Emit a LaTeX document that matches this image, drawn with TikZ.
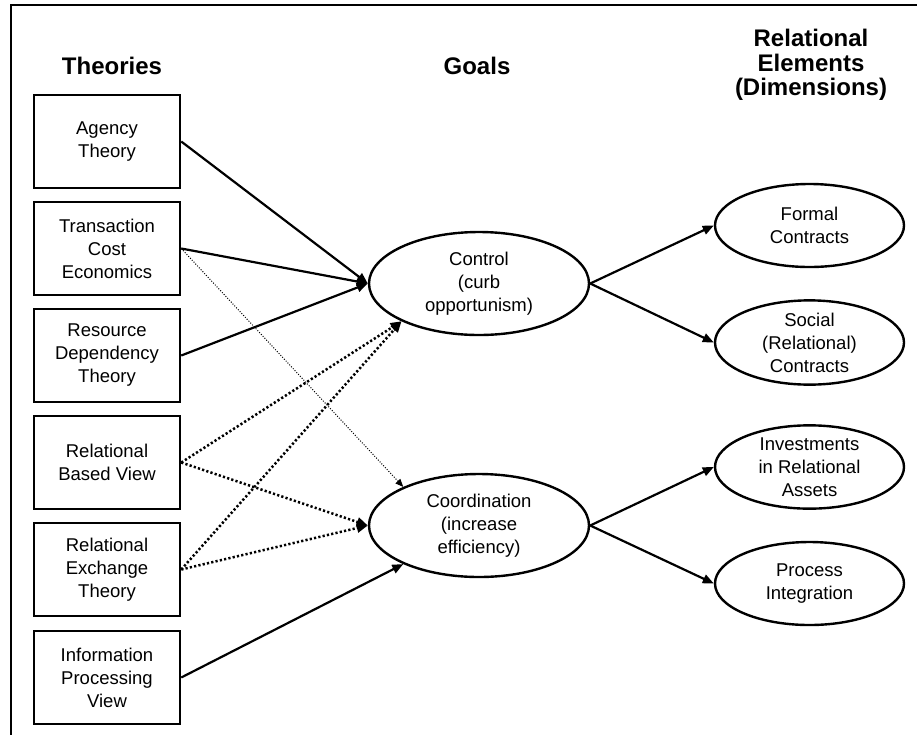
\documentclass[tikz,border=0pt]{standalone}
\usepackage{fontspec}
\setmainfont{Liberation Sans}
\usetikzlibrary{arrows.meta,shapes.geometric}
\begin{document}
\begin{tikzpicture}[x=1pt,y=-1pt,
  thbox/.style={draw,line width=2.5pt,minimum width=146pt,minimum height=93pt,align=center,font=\fontsize{18.5}{23}\selectfont,inner sep=0pt},
  oval/.style={draw,ellipse,line width=2.4pt,align=center,font=\fontsize{18.5}{23}\selectfont,inner sep=0pt},
  goal/.style={oval,minimum width=220pt,minimum height=103pt},
  elem/.style={oval,minimum width=189pt,minimum height=83pt},
  head/.style={font=\bfseries\fontsize{24}{24.5}\selectfont,align=center},
  solidarr/.style={line width=2.2pt,-{Triangle[length=11pt,width=9pt]}},
  dotarr/.style={line width=2.5pt,dash pattern=on 2.2pt off 2.2pt,-{Triangle[length=11pt,width=9pt]}},
  thinarr/.style={line width=1pt,dash pattern=on 1pt off 1.6pt,-{Triangle[length=8pt,width=6.5pt]}}
]
\useasboundingbox (0,0) rectangle (917,734);
\draw[line width=2.4pt] (11,740) -- (11,5) -- (925,5);

% headings
\node[head] (hth) at (112,66) {Theories};
\node[head] (hgo) at (477,66) {Goals};
\node[head] (hre) at (811,65) {Relational\\Elements\\(Dimensions)};

% theory boxes
\node[thbox] (agt) at (107,141.5) {Agency\\Theory};
\node[thbox] (tce) at (107,248.5) {Transaction\\Cost\\Economics};
\node[thbox] (rdt) at (107,355.5) {Resource\\Dependency\\Theory};
\node[thbox] (rbv) at (107,462.5) {Relational\\Based View};
\node[thbox] (ret) at (107,569.5) {Relational\\Exchange\\Theory};
\node[thbox] (ipv) at (107,677.5) {Information\\Processing\\View};

% goals
\node[goal] (ctl) at (479,283.5) {Control\\(curb\\opportunism)};
\node[goal] (crd) at (479,525.5) {Coordination\\(increase\\efficiency)};

% elements
\node[elem] (frm) at (809.5,225.5) {Formal\\Contracts};
\node[elem] (soc) at (809.5,342.5) {Social\\(Relational)\\Contracts};
\node[elem] (inv) at (809.5,467) {Investments\\in Relational\\Assets};
\node[elem] (prc) at (809.5,583.5) {Process\\Integration};

% connectors
\draw[solidarr] (agt.east) -- (ctl.west);
\draw[solidarr] (tce.east) -- (ctl.west);
\draw[solidarr] (rdt.east) -- (ctl.west);
\draw[thinarr] (tce.east) -- (crd.153);
\draw[dotarr] (rbv.east) -- (ctl.206);
\draw[dotarr] (ret.east) -- (ctl.206);
\draw[dotarr] (rbv.east) -- (crd.west);
\draw[dotarr] (ret.east) -- (crd.west);
\draw[solidarr] (ipv.east) -- (crd.207);

\draw[solidarr] (ctl.east) -- (frm.west);
\draw[solidarr] (ctl.east) -- (soc.west);
\draw[solidarr] (crd.east) -- (inv.west);
\draw[solidarr] (crd.east) -- (prc.west);
\end{tikzpicture}
\end{document}
